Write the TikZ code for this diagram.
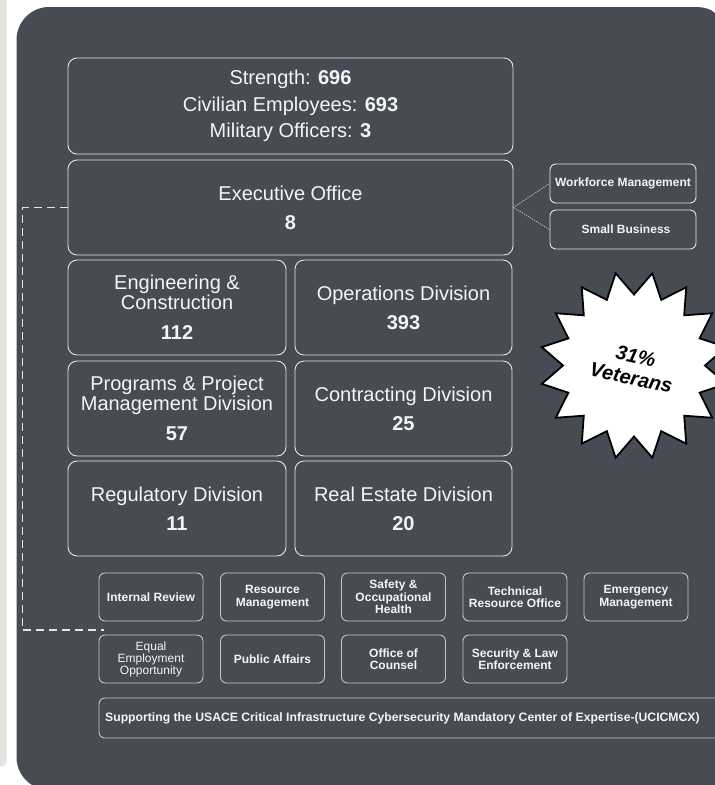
\documentclass[tikz,border=0pt]{standalone}
\usepackage{fontspec}
\setmainfont{Liberation Sans}
\definecolor{panel}{HTML}{474C54}
\definecolor{strip}{HTML}{E6E4DF}
\definecolor{lineW}{HTML}{E4E4E4}
\definecolor{lineG}{HTML}{C4C4C4}
\definecolor{txt}{HTML}{F4F4F4}
\begin{document}
\begin{tikzpicture}[x=1pt,y=-1pt,
  bigbox/.style={draw=lineW, line width=0.9pt, rounded corners=9pt, text=txt, align=center,
    inner sep=0pt, font=\fontsize{20}{20}\selectfont},
  smallbox/.style={draw=lineG, line width=0.9pt, rounded corners=6pt, text=txt, align=center,
    inner sep=0pt, minimum width=104pt, minimum height=48pt, font=\fontsize{12}{12.5}\selectfont\bfseries},
  sidebox/.style={smallbox, draw=lineW, minimum width=146pt, minimum height=39pt},
  dashline/.style={draw=lineW, line width=1.3pt, dash pattern=on 8pt off 5pt},
  dotline/.style={draw=lineG, line width=0.8pt, dash pattern=on 1.2pt off 1.2pt}]
\useasboundingbox (0,0) rectangle (715,785);
\fill[white] (0,0) rectangle (715,785);
\fill[strip] (0,0) -- (6.5,0) -- (6.5,761) .. controls (6.5,764) and (5,766) .. (2,766) -- (0,766) -- cycle;
\fill[panel] (16.5,40) .. controls (16.5,22) and (31,7) .. (49,7) -- (695,7)
  .. controls (704,7) and (711,9) .. (715,13) -- (715,785) -- (32,785)
  .. controls (22.3,779) and (16.5,768.4) .. (16.5,757) -- cycle;

% top boxes
\node[bigbox, minimum width=445pt, minimum height=96pt, font=\fontsize{20}{26.5}\selectfont] (strength) at (290.5,106)
  {Strength: \textbf{696}\\Civilian Employees: \textbf{693}\\Military Officers: \textbf{3}};
\node[bigbox, minimum width=445pt, minimum height=95pt, font=\fontsize{20}{21}\selectfont] (exec) at (290.5,207.5)
  {Executive Office\\[8pt]\textbf{8}};

% divisions
\node[bigbox, minimum width=218pt, minimum height=95pt] (eng) at (177,307.5)
  {Engineering \&\\Construction\\[10pt]\textbf{112}};
\node[bigbox, minimum width=217pt, minimum height=95pt] (ops) at (403.5,307.5)
  {Operations Division\\[9pt]\textbf{393}};
\node[bigbox, minimum width=218pt, minimum height=95pt] (ppm) at (177,408.5)
  {Programs \& Project\\Management Division\\[10pt]\textbf{57}};
\node[bigbox, minimum width=217pt, minimum height=95pt] (con) at (403.5,408.5)
  {Contracting Division\\[9pt]\textbf{25}};
\node[bigbox, minimum width=218pt, minimum height=95pt] (reg) at (177,508.5)
  {Regulatory Division\\[9pt]\textbf{11}};
\node[bigbox, minimum width=217pt, minimum height=95pt] (re) at (403.5,508.5)
  {Real Estate Division\\[9pt]\textbf{20}};

% side boxes
\node[sidebox] (wm) at (623,183.5) {Workforce Management};
\node[sidebox] (sb) at (623,229.5) {\hspace*{6pt}Small Business};
\draw[dotline] (exec.east) -- (wm.west);
\draw[dotline] (exec.east) -- (sb.west);

% star
\begin{scope}
\clip (0,0) rectangle (715,785);
\coordinate (starc) at (634,365.5);
\filldraw[fill=white, draw=black, line width=1.8pt, line join=miter]
  ([shift={(101.25:94)}]starc)
  \foreach \i [evaluate=\i as \r using {ifthenelse(mod(\i,2)==0,94,71)}] in {1,...,31}
    { -- ([shift={(\i*11.25+101.25:\r)}]starc) } -- cycle;
\end{scope}
\node[rotate=-12, align=center, text=black, font=\fontsize{20}{22}\selectfont\bfseries\itshape] (vet) at (633.5,367) {31\%\\Veterans};

% staff offices
\node[smallbox] (ir) at (151,597) {Internal Review};
\node[smallbox] (rm) at (272.5,597) {Resource\\Management};
\node[smallbox] (soh) at (393.5,597) {Safety \&\\Occupational\\Health};
\node[smallbox] (tro) at (515,597) {Technical\\Resource Office};
\node[smallbox] (em) at (636,597) {Emergency\\Management};
\node[smallbox, font=\fontsize{12}{12}\selectfont] (eeo) at (151,659) {Equal\\Employment\\Opportunity};
\node[smallbox] (pa) at (272.5,659) {Public Affairs};
\node[smallbox] (oc) at (393.5,659) {Office of\\Counsel};
\node[smallbox] (sle) at (515,659) {Security \& Law\\Enforcement};
\coordinate (cybR) at (715,698);
\draw[draw=lineG, line width=0.9pt, rounded corners=6pt] (cybR) -- (99,698) -- (99,738) -- (715,738);
\node[anchor=west, text=txt, inner sep=0pt, font=\fontsize{12.2}{12.5}\selectfont\bfseries] (cyber) at (105,718)
  {Supporting the USACE Critical Infrastructure Cybersecurity Mandatory Center of Expertise-(UCICMCX)};

% dashed connector
\coordinate (dend) at (104,630);
\draw[dashline] (exec.west) -- ++(-45,0) |- (dend);
\end{tikzpicture}
\end{document}
